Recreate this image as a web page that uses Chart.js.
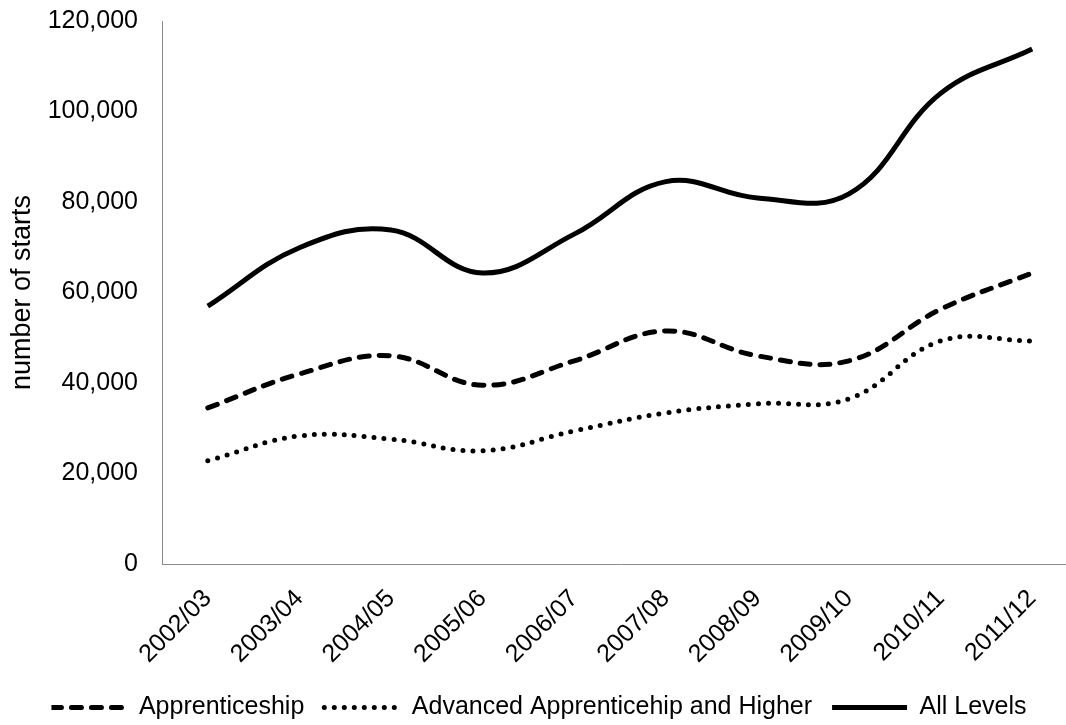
<!DOCTYPE html>
<html>
<head>
<meta charset="utf-8">
<script src="https://cdn.jsdelivr.net/npm/chart.js@4/dist/chart.umd.min.js"></script>
<style>
  html, body { margin: 0; padding: 0; background: #fff; overflow: hidden; }
  /* the plot runs a little past the right and top edges of the window */
  #wrap { position: absolute; left: 0; top: -18px; width: 1080px; height: 748px; }
</style>
</head>
<body>
<div id="wrap"><canvas id="chart1"></canvas></div>
<script>
// data
var years = ['2002/03', '2003/04', '2004/05', '2005/06', '2006/07',
             '2007/08', '2008/09', '2009/10', '2010/11', '2011/12'];
var apprenticeship = [34500, 42000, 46000, 39500, 44900, 51500, 46000, 44900, 56300, 64300];
var advanced = [22800, 28300, 27600, 25000, 29400, 33400, 35400, 36500, 49300, 49300];
var allLevels = [57000, 69900, 73800, 64300, 72900, 84500, 80900, 81800, 104000, 113800];

var font = { family: '"Liberation Sans", Arial, sans-serif', size: 25 };

var ctx = document.getElementById('chart1').getContext('2d');
var myChart = new Chart(ctx, {
    type: 'line',
    data: {
        labels: years,
        datasets: [{
            label: 'Apprenticeship',
            data: apprenticeship,
            borderColor: '#000',
            backgroundColor: '#000',
            borderWidth: 5,
            borderDash: [10, 10],
            borderCapStyle: 'round',
            pointRadius: 0,
            tension: 0.4
        }, {
            label: 'Advanced Apprenticehip and Higher',
            data: advanced,
            borderColor: '#000',
            backgroundColor: '#000',
            borderWidth: 5,
            borderDash: [0, 10],
            borderCapStyle: 'round',
            pointRadius: 0,
            tension: 0.4
        }, {
            label: 'All Levels',
            data: allLevels,
            borderColor: '#000',
            backgroundColor: '#000',
            borderWidth: 5,
            pointRadius: 0,
            tension: 0.4
        }]
    },
    options: {
        responsive: true,
        maintainAspectRatio: false,
        animation: false,
        layout: { padding: { top: 2, right: 2, left: 0, bottom: 0 } },
        scales: {
            x: {
                offset: true,
                grid: { display: false, drawTicks: false },
                border: { display: true, color: '#8c8c8c', width: 1 },
                ticks: { color: '#000', font: font, maxRotation: 45, minRotation: 45, padding: 20 },
                afterFit: function (scale) { scale.height = 111; }
            },
            y: {
                min: 0,
                max: 120000,
                grid: { display: false, drawTicks: false },
                border: { display: true, color: '#8c8c8c', width: 1 },
                ticks: { stepSize: 20000, color: '#000', font: font, padding: 24 },
                title: {
                    display: true,
                    text: 'number of starts',
                    color: '#000',
                    font: { family: font.family, size: 27 },
                    padding: { top: 6, bottom: 0 }
                },
                afterFit: function (scale) { scale.width = 162; }
            }
        },
        plugins: {
            legend: {
                position: 'bottom',
                labels: {
                    color: '#000',
                    font: font,
                    // flat box so the stroke shows the dataset's dash pattern
                    boxWidth: 75,
                    boxHeight: 0,
                    padding: 20
                }
            },
            tooltip: { enabled: false }
        }
    }
});
</script>
</body>
</html>
